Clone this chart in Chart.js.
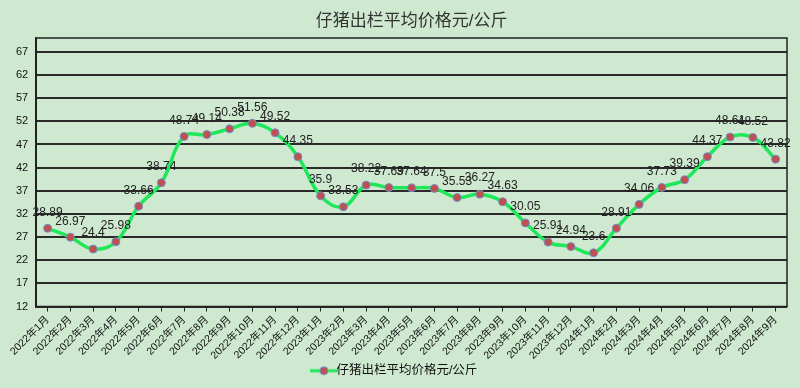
<!DOCTYPE html>
<html>
<head>
<meta charset="utf-8">
<script src="https://cdn.jsdelivr.net/npm/chart.js@4.4.1/dist/chart.umd.min.js"></script>
<style>
  html, body { margin: 0; padding: 0; background: #cfe9d0; }
  #wrap { width: 800px; height: 388px; }
</style>
</head>
<body>
<div id="wrap"><canvas id="c"></canvas></div>
<script>
// months shown on the x axis
const months = [
  '2022年1月','2022年2月','2022年3月','2022年4月','2022年5月','2022年6月',
  '2022年7月','2022年8月','2022年9月','2022年10月','2022年11月','2022年12月',
  '2023年1月','2023年2月','2023年3月','2023年4月','2023年5月','2023年6月',
  '2023年7月','2023年8月','2023年9月','2023年10月','2023年11月','2023年12月',
  '2024年1月','2024年2月','2024年3月','2024年4月','2024年5月','2024年6月',
  '2024年7月','2024年8月','2024年9月'
];
// average piglet price, yuan/kg
const prices = [
  28.89, 26.97, 24.4, 25.98, 33.66, 38.74,
  48.74, 49.14, 50.38, 51.56, 49.52, 44.35,
  35.9, 33.53, 38.22, 37.69, 37.64, 37.5,
  35.53, 36.27, 34.63, 30.05, 25.91, 24.94,
  23.6, 28.91, 34.06, 37.73, 39.39, 44.37,
  48.61, 48.52, 43.82
];
const yTicks = [12, 17, 22, 27, 32, 37, 42, 47, 52, 57, 62, 67];
const seriesName = '仔猪出栏平均价格元/公斤';

const FONT = '"Liberation Sans", "Noto Sans CJK SC", sans-serif';
const LINE = '#1ee85a';
const DOT = '#c0504d';
const DOT_EDGE = '#6f8fc8';

// legend symbol: line with a dot in the middle
const legendIcon = document.createElement('canvas');
legendIcon.width = 28;
legendIcon.height = 10;
(function () {
  const g = legendIcon.getContext('2d');
  g.strokeStyle = LINE;
  g.lineWidth = 3;
  g.beginPath(); g.moveTo(0, 5); g.lineTo(28, 5); g.stroke();
  g.fillStyle = DOT;
  g.strokeStyle = DOT_EDGE;
  g.lineWidth = 1;
  g.beginPath(); g.arc(14, 5, 4, 0, Math.PI * 2); g.fill(); g.stroke();
})();

// title centred over the plot area
const plotTitle = {
  id: 'plotTitle',
  afterDraw(chart) {
    const a = chart.chartArea;
    const ctx = chart.ctx;
    ctx.save();
    ctx.font = '17px ' + FONT;
    ctx.fillStyle = '#333';
    ctx.textAlign = 'center';
    ctx.textBaseline = 'middle';
    ctx.fillText(seriesName, (a.left + a.right) / 2, 21);
    ctx.restore();
  }
};

// value labels above each point
const pointLabels = {
  id: 'pointLabels',
  afterDatasetsDraw(chart) {
    const ctx = chart.ctx;
    const meta = chart.getDatasetMeta(0);
    ctx.save();
    ctx.font = '12px ' + FONT;
    ctx.fillStyle = '#222';
    ctx.textAlign = 'center';
    ctx.textBaseline = 'middle';
    meta.data.forEach((pt, i) => {
      ctx.fillText(String(prices[i]), pt.x, pt.y - 16);
    });
    ctx.restore();
  }
};

// border round the plot area
const plotBorder = {
  id: 'plotBorder',
  beforeDatasetsDraw(chart) {
    const a = chart.chartArea;
    const ctx = chart.ctx;
    ctx.save();
    ctx.strokeStyle = '#222';
    ctx.lineWidth = 1.5;
    ctx.strokeRect(a.left, a.top, a.right - a.left, a.bottom - a.top);
    ctx.restore();
  }
};

new Chart(document.getElementById('c'), {
  type: 'line',
  data: {
    labels: months,
    datasets: [{
      label: seriesName,
      data: prices,
      borderColor: LINE,
      borderWidth: 3.5,
      tension: 0.4,
      pointRadius: 4,
      pointBackgroundColor: DOT,
      pointBorderColor: DOT_EDGE,
      pointBorderWidth: 1,
      fill: false
    }]
  },
  options: {
    responsive: true,
    maintainAspectRatio: false,
    animation: false,
    layout: { padding: { left: 8, right: 13, top: 38, bottom: 1 } },
    plugins: {
      title: { display: false },
      legend: {
        position: 'bottom',
        labels: {
          color: '#111',
          font: { family: FONT, size: 12.5 },
          usePointStyle: true,
          pointStyle: legendIcon,
          padding: 2
        }
      },
      tooltip: { enabled: false }
    },
    scales: {
      x: {
        offset: true,
        afterFit(scale) {
          scale.height = 56;
        },
        grid: {
          display: true,
          drawOnChartArea: false,
          drawTicks: true,
          tickLength: 5,
          color: '#222'
        },
        border: { color: '#222' },
        ticks: {
          color: '#111',
          font: { family: FONT, size: 10.5 },
          maxRotation: 45,
          minRotation: 45,
          autoSkip: false,
          padding: 2
        }
      },
      y: {
        min: 12,
        max: 70,
        afterBuildTicks(axis) {
          axis.ticks = yTicks.map(v => ({ value: v }));
        },
        grid: {
          color: '#2a2a2a',
          lineWidth: 2,
          drawTicks: false
        },
        border: { color: '#222', width: 1.5 },
        ticks: {
          color: '#111',
          font: { family: FONT, size: 11 },
          padding: 8
        }
      }
    }
  },
  plugins: [plotBorder, pointLabels, plotTitle]
});
</script>
</body>
</html>
